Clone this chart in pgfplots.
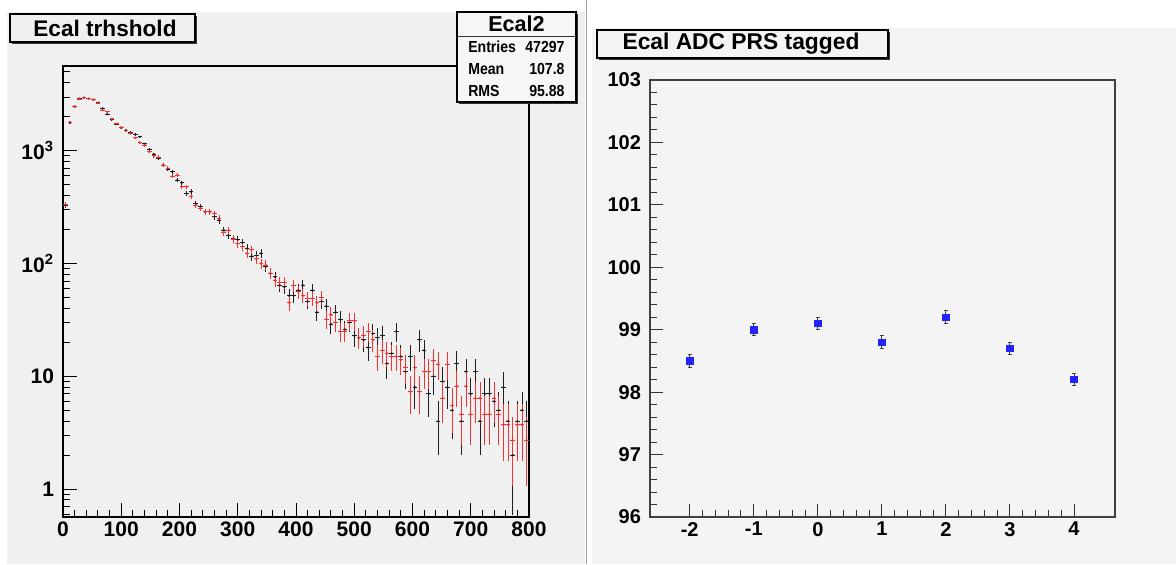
\documentclass[border=0pt]{standalone}
\usepackage{pgfplots}
\pgfplotsset{compat=1.18}
\usepackage{pgfplotstable}
\usepackage{fontspec}
\setmainfont{Liberation Sans}
\newfontfamily\statsfont[FakeStretch=0.88]{Liberation Sans}
\definecolor{bgL}{RGB}{240,240,240}
\definecolor{bgR}{RGB}{244,244,244}
\definecolor{sepc}{RGB}{160,160,160}
\definecolor{hred}{RGB}{245,50,50}
\definecolor{hblack}{RGB}{30,30,30}
\definecolor{rootblue}{RGB}{35,35,255}

\pgfplotstableread{
x b r
4 330 335
12 1770 1800
20 2460 2480
28 2900 2880
36 2960 2950
44 2900 2890
52 2840 2830
60 2670 2650
68 2375 2300
76 2115 2220
84 1900 1920
92 1725 1740
100 1600 1620
108 1520 1500
116 1450 1430
124 1400 1300
132 1330 1180
140 1150 1120
148 1030 980
156 935 900
164 855 880
172 745 745
180 683 700
188 650 595
196 549 608
204 520 480
212 418 480
220 433 396
228 340 329
236 318 308
244 287 287
252 287 287
260 260 278
268 242 252
276 198 190
284 178 198
292 167 165
300 163 150
308 153 141
316 136 123
324 116 133
332 118 110
340 123 100
348 94 97
356 82 82
364 76 71
372 64 68
380 62 68
388 52 45
396 52 64
404 58 56
412 64 52
420 46 49
428 58 49
436 37 45
444 46 50
452 42 32
460 29 35
468 37 30
476 32 25
484 26 25
492 30 31
500 23 31
508 22 22
516 21 23
524 18 25
532 24 21
540 22 15
548 23 17
556 13 16
564 16 15
572 25 15
580 15 14
588 11 12
596 15 7.3
604 8 11.9
612 21 7.3
620 17 11
628 7 11
636 10 13.7
644 4 12.8
652 9 6.4
660 8 12.8
668 5 5.5
676 13 8.2
684 4 4.6
692 11 8.2
700 7 4.6
708 11 6.4
716 4 6.4
724 7 4.6
732 7 4.6
740 6 6.4
748 5 4.6
756 8 3.7
764 4 3.7
772 2 2.7
780 4 3.7
788 5 3.7
796 4 2.7
}\histdata

\pgfplotstableread{
x y e
-2 98.5 0.1
-1 99.0 0.1
0 99.1 0.1
1 98.8 0.1
2 99.2 0.1
3 98.7 0.1
4 98.2 0.1
}\prsdata

\begin{document}
\begin{tikzpicture}[x=1pt,y=1pt]
\useasboundingbox (0,0) rectangle (588,282);
\fill[white] (0,0) rectangle (588,282);
\fill[bgL] (3.5,0) rectangle (292.5,276);
\draw[sepc, line width=0.6pt] (293.2,0) -- (293.2,282);
\fill[bgR] (296,0) rectangle (588,268);

\begin{axis}[
  at={(31.5pt,23.5pt)}, anchor=south west,
  scale only axis, width=233pt, height=225.5pt,
  ymode=log, xmin=0, xmax=800, ymin=0.565, ymax=5650,
  axis background/.style={fill=bgL},
  axis line style={line width=0.6pt, black},
  tick align=inside, tick pos=left,
  major tick length=7pt, minor tick length=3.5pt,
  every tick/.style={black, line width=0.5pt},
  xtick={0,100,200,300,400,500,600,700,800},
  xticklabels={0,100,200,300,400,500,600,700,800},
  minor xtick={20,40,60,80,120,140,160,180,220,240,260,280,320,340,360,380,420,440,460,480,520,540,560,580,620,640,660,680,720,740,760,780},
  ytick={1,10,100,1000},
  yticklabels={1,10,10\textsuperscript{2},10\textsuperscript{3}},
  minor ytick={0.6,0.7,0.8,0.9,2,3,4,5,6,7,8,9,20,30,40,50,60,70,80,90,200,300,400,500,600,700,800,900,2000,3000,4000,5000},
  ticklabel style={font=\bfseries\fontsize{10.5}{12}\selectfont},
  xticklabel style={yshift=1pt},
  yticklabel style={xshift=-1pt},
]
\addplot[hblack, only marks, mark=*, mark size=0.35pt,
  error bars/.cd, x dir=both, x fixed=4, y dir=both, y explicit,
  error mark=none, error bar style={line width=0.5pt, hblack}]
  table[x=x, y=b, y error expr={sqrt(\thisrow{b})}] {\histdata};
\addplot[hred, only marks, mark=*, mark size=0.35pt,
  error bars/.cd, x dir=both, x fixed=4, y dir=both, y explicit,
  error mark=none, error bar style={line width=0.5pt, hred}]
  table[x=x, y=r, y error expr={sqrt(\thisrow{r})}] {\histdata};
\end{axis}

\begin{axis}[
  at={(325pt,23.5pt)}, anchor=south west,
  scale only axis, width=232.5pt, height=218.5pt,
  xmin=-2.62, xmax=4.64, ymin=96, ymax=103,
  axis background/.style={fill=bgR},
  axis line style={line width=0.6pt, black!75},
  tick align=inside, tick pos=left,
  major tick length=6.5pt, minor tick length=3.5pt,
  every tick/.style={black!80, line width=0.5pt},
  xtick={-2,-1,0,1,2,3,4},
  xticklabels={-2,-1,0,1,2,3,4},
  minor x tick num=4,
  ytick={96,97,98,99,100,101,102,103},
  yticklabels={96,97,98,99,100,101,102,103},
  minor y tick num=4,
  ticklabel style={font=\bfseries\fontsize{10}{12}\selectfont},
  xticklabel style={yshift=1pt},
  yticklabel style={xshift=-1pt},
]
\addplot[only marks, mark=square*, mark size=1.6pt,
  mark options={fill=rootblue, draw=rootblue},
  error bars/.cd, y dir=both, y explicit,
  error mark options={black!75, line width=0.5pt, mark size=1pt, rotate=90},
  error bar style={line width=0.5pt, black!75}]
  table[x=x, y=y, y error=e] {\prsdata};
\end{axis}

% left title box
\fill[black!80] (6.2,259.8) rectangle (98.7,273.8);
\draw[black, line width=0.6pt, fill=bgL] (5,261) rectangle (97.5,275);
\node[font=\bfseries\fontsize{11.3}{13}\selectfont] at (52.5,268) {Ecal trhshold};

% stats box
\fill[black!80] (229.7,229.8) rectangle (289.2,274.8);
\draw[black, line width=0.6pt, fill=bgL!60!white] (228.5,231) rectangle (288,276);
\draw[black!80, line width=0.5pt] (228.5,263.8) -- (288,263.8);
\node[font=\bfseries\fontsize{10.8}{12}\selectfont] at (258.25,270.2) {Ecal2};
\node[font=\statsfont\bfseries\fontsize{8}{9}\selectfont, anchor=west] at (230.6,258.6) {Entries};
\node[font=\statsfont\bfseries\fontsize{8}{9}\selectfont, anchor=east] at (285.8,258.6) {47297};
\node[font=\statsfont\bfseries\fontsize{8}{9}\selectfont, anchor=west] at (230.6,247.4) {Mean};
\node[font=\statsfont\bfseries\fontsize{8}{9}\selectfont, anchor=east] at (285.8,247.4) {107.8};
\node[font=\statsfont\bfseries\fontsize{8}{9}\selectfont, anchor=west] at (230.6,236.4) {RMS};
\node[font=\statsfont\bfseries\fontsize{8}{9}\selectfont, anchor=east] at (285.8,236.4) {95.88};

% right title box
\fill[black!80] (299.7,251.8) rectangle (445.2,265.8);
\draw[black, line width=0.6pt, fill=bgR] (298.5,253) rectangle (444,267);
\node[font=\bfseries\fontsize{11.4}{13}\selectfont] at (370.5,260) {Ecal ADC PRS tagged};
\end{tikzpicture}
\end{document}
